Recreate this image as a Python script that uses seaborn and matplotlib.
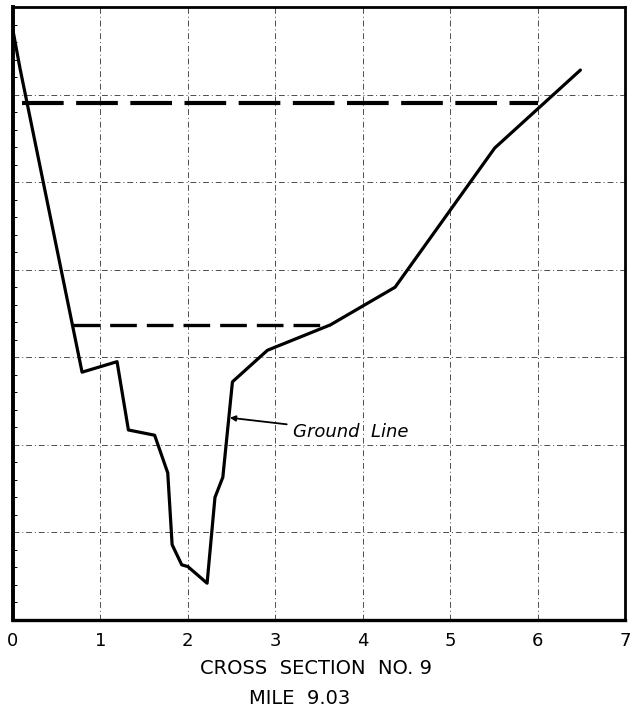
import numpy as np
import pandas as pd
import matplotlib
matplotlib.use("Agg")
import matplotlib.pyplot as plt
import seaborn as sns

# ground profile (x in chart units, y in grid units)
ground_x = [0.0, 0.08, 0.79, 1.19, 1.32, 1.62, 1.77, 1.82, 1.93, 2.00, 2.22,
            2.31, 2.40, 2.51, 2.91, 3.63, 4.37, 5.51, 6.49]
ground_y = [6.73, 6.30, 2.83, 2.95, 2.17, 2.11, 1.68, 0.86, 0.63, 0.61, 0.42,
            1.40, 1.63, 2.72, 3.08, 3.37, 3.80, 5.39, 6.28]

# water levels (dashed)
high_x = [0.10, 6.00]
high_y = [5.90, 5.90]
low_x = [0.69, 3.63]
low_y = [3.37, 3.37]

xticks = [0, 1, 2, 3, 4, 5, 6, 7]
yticks = [0, 1, 2, 3, 4, 5, 6, 7]

sns.set_style("white", {"text.color": "black", "xtick.color": "black",
                        "ytick.color": "black", "axes.labelcolor": "black"})
plt.rcParams['font.family'] = ['DejaVu Sans']

fig = plt.figure(figsize=(6.33, 7.10), dpi=100)
ax = fig.add_axes([13/633, 90/710, 612/633, 613/710])

# dash-dot grid as on the drawing paper
grid_kw = dict(color="0.3", lw=0.7, ls=(0, (6, 3, 1, 3)), zorder=1)
for v in xticks[1:-1]:
    ax.axvline(v, **grid_kw)
for v in yticks[1:-1]:
    ax.axhline(v, **grid_kw)

df = pd.DataFrame({"x": ground_x, "y": ground_y})
sns.lineplot(data=df, x="x", y="y", ax=ax, color="black", lw=2.3,
             sort=False, estimator=None, zorder=3)
sns.lineplot(x=high_x, y=high_y, ax=ax, color="black", lw=3.0,
             estimator=None, zorder=3)
ax.lines[-1].set_dashes((10, 3))
sns.lineplot(x=low_x, y=low_y, ax=ax, color="black", lw=2.4,
             estimator=None, zorder=3)
ax.lines[-1].set_dashes((8, 3))

ax.annotate("Ground  Line", xy=(2.48, 2.31), xytext=(3.2, 2.15),
            fontsize=13, style="italic", va="center", ha="left", color="black",
            arrowprops=dict(arrowstyle="-|>", color="black", lw=1.3,
                            mutation_scale=8, shrinkB=0, shrinkA=2))

ax.set_xlim(0, 7)
ax.set_ylim(0, 7)
ax.set_xticks(xticks)
ax.set_xticklabels([str(t) for t in xticks], fontsize=13)
ax.set_yticks(yticks)
ax.set_yticklabels([])
ax.set_yticks(np.arange(0, 7.01, 0.2), minor=True)
ax.tick_params(axis="x", length=0, pad=9, colors="black")
ax.tick_params(axis="y", which="major", length=0)
ax.tick_params(axis="y", which="minor", direction="in", length=3, width=0.7, left=True)
ax.set_xlabel("")
ax.set_ylabel("")

for side, w in (("left", 2.8), ("bottom", 2.4), ("top", 2.0), ("right", 2.0)):
    ax.spines[side].set_visible(True)
    ax.spines[side].set_linewidth(w)
    ax.spines[side].set_color("black")

fig.text(316/633, 1 - 668/710, "CROSS  SECTION  NO. 9", fontsize=14,
         ha="center", va="center", color="black")
fig.text(300/633, 1 - 698/710, "MILE  9.03", fontsize=14,
         ha="center", va="center", color="black")

fig.savefig("out.png", dpi=100, facecolor="white")
